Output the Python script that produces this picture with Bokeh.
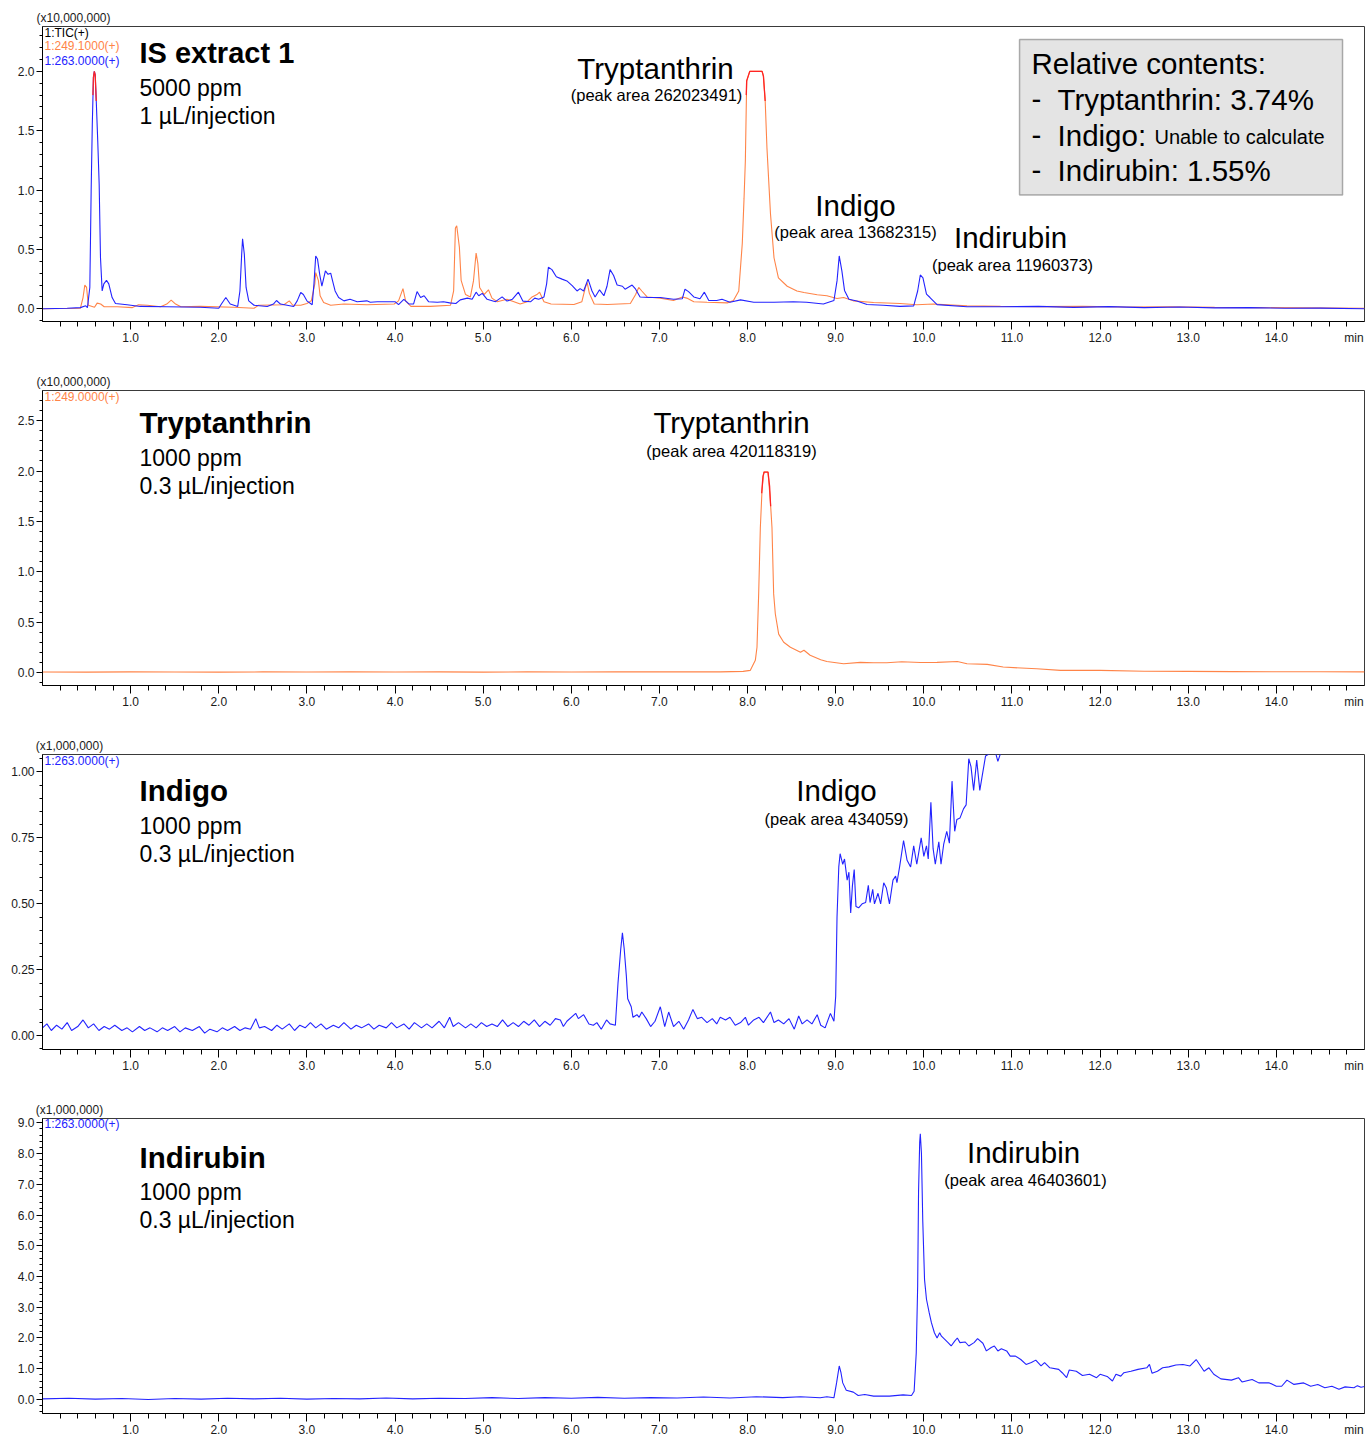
import math
from bokeh.plotting import figure
from bokeh.layouts import column
from bokeh.models import FixedTicker, Label, BoxAnnotation, Range1d, PrintfTickFormatter, LinearAxis
from bokeh.embed import file_html
from bokeh.resources import INLINE

FONT = "Liberation Sans"
BLUE = "#2323ff"
ORANGE = "#ff8448"
RED = "#ff2424"
NAN = float("nan")

# ---------------- data (time in min, intensity in axis units) ----------------
x_major = [1.0, 2.0, 3.0, 4.0, 5.0, 6.0, 7.0, 8.0, 9.0, 10.0, 11.0, 12.0, 13.0, 14.0]

# Panel 1: IS extract 1 (x10,000,000)
p1_blue_t = [0.0, 0.015, 0.28, 0.43, 0.49, 0.51, 0.537, 0.552, 0.565, 0.578, 0.588, 0.598, 0.61, 0.627,
             0.643, 0.658, 0.677, 0.696, 0.726, 0.752, 0.79, 0.828, 0.96, 1.11, 1.41, 1.79, 2.0, 2.03,
             2.08, 2.13, 2.215, 2.24, 2.26, 2.27, 2.29, 2.31, 2.34, 2.40, 2.55, 2.62, 2.655, 2.70, 2.85,
             2.89, 2.93, 2.96, 3.0, 3.06, 3.08, 3.10, 3.12, 3.145, 3.17, 3.21, 3.24, 3.27, 3.29, 3.32,
             3.36, 3.42, 3.49, 3.57, 3.68, 3.72, 3.80, 4.00, 4.04, 4.10, 4.16, 4.21, 4.25, 4.29, 4.33,
             4.38, 4.48, 4.55, 4.62, 4.69, 4.74, 4.82, 4.875, 4.92, 4.95, 4.99, 5.045, 5.14, 5.215, 5.27,
             5.33, 5.40, 5.45, 5.54, 5.585, 5.63, 5.69, 5.72, 5.74, 5.78, 5.83, 5.895, 5.95, 6.01, 6.065,
             6.10, 6.14, 6.19, 6.235, 6.27, 6.32, 6.37, 6.405, 6.44, 6.48, 6.52, 6.58, 6.61, 6.69, 6.73,
             6.78, 6.88, 7.01, 7.16, 7.26, 7.29, 7.33, 7.39, 7.46, 7.51, 7.56, 7.65, 7.71, 7.80, 7.92,
             8.07, 8.30, 8.52, 8.67, 8.86, 8.98, 9.015, 9.04, 9.07, 9.10, 9.15, 9.24, 9.355, 9.54, 9.73,
             9.885, 9.93, 9.96, 9.99, 10.03, 10.07, 10.15, 10.49, 10.87, 11.3, 11.7, 12.1, 12.5, 12.9,
             13.3, 13.7, 14.1, 14.5, 15.0]
p1_blue_v = [0.0, 0.0, 0.004, 0.01, 0.025, 0.01, 0.18, 0.99, 1.55, 1.95, 2.0, 1.97, 1.75, 1.41,
             1.05, 0.43, 0.15, 0.21, 0.24, 0.21, 0.095, 0.045, 0.034, 0.02, 0.017, 0.013, 0.004, 0.04,
             0.095, 0.04, 0.02, 0.15, 0.46, 0.59, 0.46, 0.18, 0.067, 0.03, 0.02, 0.04, 0.07, 0.04, 0.02,
             0.067, 0.137, 0.12, 0.067, 0.034, 0.21, 0.445, 0.42, 0.29, 0.19, 0.32, 0.29, 0.30, 0.24, 0.15,
             0.095, 0.067, 0.08, 0.06, 0.067, 0.055, 0.06, 0.06, 0.035, 0.08, 0.04, 0.04, 0.145, 0.095, 0.11,
             0.06, 0.055, 0.06, 0.05, 0.045, 0.075, 0.09, 0.08, 0.14, 0.11, 0.13, 0.08, 0.06, 0.10, 0.065,
             0.08, 0.14, 0.065, 0.06, 0.09, 0.08, 0.10, 0.21, 0.35, 0.33, 0.27, 0.25, 0.235, 0.195, 0.15,
             0.17, 0.15, 0.25, 0.15, 0.10, 0.16, 0.11, 0.19, 0.33, 0.28, 0.20, 0.19, 0.165, 0.20, 0.165,
             0.10, 0.095, 0.095, 0.08, 0.085, 0.165, 0.145, 0.10, 0.085, 0.14, 0.07, 0.07, 0.08, 0.055, 0.075,
             0.055, 0.055, 0.06, 0.055, 0.04, 0.07, 0.235, 0.445, 0.32, 0.155, 0.08, 0.065, 0.036, 0.03, 0.02,
             0.025, 0.15, 0.285, 0.26, 0.123, 0.095, 0.035, 0.017, 0.017, 0.02, 0.012, 0.018, 0.01, 0.015,
             0.008, 0.01, 0.004, 0.006, 0.0]

p1_orange_t = [0.0, 0.43, 0.46, 0.48, 0.50, 0.52, 0.59, 0.62, 0.66, 0.70, 0.85, 1.02, 1.09, 1.19, 1.34,
               1.41, 1.46, 1.51, 1.57, 1.79, 2.17, 2.40, 2.45, 2.74, 2.80, 2.84, 2.93, 3.0, 3.05, 3.09,
               3.10, 3.13, 3.15, 3.19, 3.27, 3.42, 3.68, 3.99, 4.04, 4.09, 4.12, 4.18, 4.40, 4.63, 4.665,
               4.685, 4.70, 4.73, 4.75, 4.80, 4.855, 4.89, 4.92, 4.94, 4.96, 5.01, 5.06, 5.10, 5.16, 5.27,
               5.35, 5.42, 5.50, 5.555, 5.61, 5.64, 5.69, 5.77, 6.03, 6.12, 6.16, 6.18, 6.205, 6.26, 6.41,
               6.67, 6.73, 6.765, 6.80, 6.86, 7.01, 7.16, 7.26, 7.31, 7.39, 7.54, 7.77, 7.84, 7.90, 7.94,
               7.96, 7.975, 7.99, 8.025, 8.165, 8.18, 8.20, 8.22, 8.26, 8.30, 8.35, 8.45, 8.56, 8.64, 8.79,
               8.90, 9.015, 9.09, 9.20, 9.43, 9.73, 9.92, 10.11, 10.49, 10.87, 11.3, 11.8, 12.3, 12.8, 13.3,
               13.8, 14.3, 15.0]
p1_orange_v = [0.0, 0.005, 0.095, 0.20, 0.18, 0.03, 0.013, 0.048, 0.04, 0.017, 0.017, 0.01, 0.034, 0.03, 0.017,
               0.04, 0.073, 0.04, 0.017, 0.02, 0.013, 0.004, 0.03, 0.034, 0.067, 0.03, 0.03, 0.045, 0.067, 0.21,
               0.305, 0.24, 0.11, 0.053, 0.03, 0.04, 0.034, 0.04, 0.067, 0.17, 0.067, 0.02, 0.02, 0.03, 0.15,
               0.68, 0.70, 0.52, 0.24, 0.12, 0.10, 0.235, 0.47, 0.38, 0.18, 0.12, 0.16, 0.09, 0.06, 0.08,
               0.06, 0.04, 0.06, 0.10, 0.12, 0.14, 0.06, 0.04, 0.036, 0.06, 0.18, 0.22, 0.13, 0.04, 0.036,
               0.045, 0.12, 0.18, 0.15, 0.10, 0.09, 0.07, 0.10, 0.09, 0.06, 0.055, 0.05, 0.07, 0.15, 0.55,
               0.93, 1.25, 1.92, 2.0, 2.0, 1.96, 1.75, 1.355, 0.80, 0.43, 0.26, 0.19, 0.15, 0.137, 0.118,
               0.11, 0.087, 0.095, 0.067, 0.053, 0.045, 0.034, 0.04, 0.025, 0.02, 0.018, 0.02, 0.015, 0.017, 0.012,
               0.01, 0.008, 0.005]

p1_sat_t = [0.572, 0.578, 0.588, 0.598, 0.61, NAN, 7.985, 7.99, 8.025, 8.165, 8.18, 8.20]
p1_sat_v = [1.8, 1.95, 2.0, 1.97, 1.75, NAN, 1.8, 1.92, 2.0, 2.0, 1.96, 1.75]

# Panel 2: Tryptanthrin standard (x10,000,000)
p2_t = [0.0, 0.5, 1.0, 1.5, 2.0, 2.5, 3.0, 3.5, 4.0, 4.5, 5.0, 5.5, 6.0, 6.5, 7.0, 7.5, 7.69, 7.95, 8.03,
        8.088, 8.107, 8.126, 8.145, 8.164, 8.183, 8.232, 8.258, 8.277, 8.296, 8.315, 8.353, 8.41, 8.486,
        8.6, 8.64, 8.71, 8.83, 8.90, 9.09, 9.28, 9.43, 9.58, 9.75, 9.96, 10.15, 10.38, 10.49, 10.72, 10.9,
        11.28, 11.55, 12.0, 12.5, 13.0, 13.5, 14.0, 14.5, 15.0]
p2_v = [0.004, 0.003, 0.005, 0.004, 0.003, 0.005, 0.004, 0.006, 0.004, 0.005, 0.003, 0.005, 0.004, 0.006,
        0.005, 0.006, 0.005, 0.01, 0.02, 0.12, 0.25, 0.78, 1.44, 1.81, 1.99, 1.99, 1.71, 1.44, 0.78, 0.58,
        0.38, 0.30, 0.25, 0.20, 0.22, 0.17, 0.126, 0.109, 0.086, 0.10, 0.096, 0.096, 0.106, 0.099, 0.10,
        0.109, 0.086, 0.08, 0.053, 0.036, 0.02, 0.02, 0.012, 0.01, 0.008, 0.006, 0.007, 0.005]
p2_sat_t = [8.16, 8.175, 8.19, 8.232, 8.25, 8.262]
p2_sat_v = [1.78, 1.95, 1.99, 1.99, 1.85, 1.65]

# Panel 3: Indigo standard (x1,000,000)
p3_t = [0.0, 0.05, 0.1, 0.16, 0.22, 0.28, 0.33, 0.4, 0.46, 0.52, 0.58, 0.64, 0.7, 0.76, 0.82, 0.9, 0.96,
        1.02, 1.1, 1.16, 1.22, 1.3, 1.36, 1.42, 1.5, 1.56, 1.62, 1.7, 1.78, 1.84, 1.9, 1.98, 2.04, 2.1,
        2.18, 2.24, 2.3, 2.36, 2.42, 2.46, 2.52, 2.6, 2.66, 2.72, 2.8, 2.86, 2.92, 2.98, 3.04, 3.1, 3.16,
        3.22, 3.3, 3.36, 3.42, 3.5, 3.56, 3.62, 3.7, 3.76, 3.82, 3.9, 3.96, 4.02, 4.1, 4.16, 4.22, 4.3,
        4.36, 4.42, 4.5, 4.56, 4.62, 4.66, 4.72, 4.8, 4.86, 4.92, 4.98, 5.04, 5.1, 5.16, 5.22, 5.28, 5.34,
        5.4, 5.46, 5.52, 5.58, 5.64, 5.7, 5.76, 5.82, 5.876, 5.91, 5.95, 6.05, 6.08, 6.14, 6.20, 6.25,
        6.29, 6.34, 6.40, 6.44, 6.50, 6.53, 6.56, 6.58, 6.60, 6.625, 6.64, 6.68, 6.70, 6.745, 6.77, 6.80,
        6.85, 6.90, 6.95, 7.01, 7.06, 7.105, 7.16, 7.22, 7.275, 7.33, 7.38, 7.43, 7.48, 7.54, 7.60, 7.65,
        7.69, 7.75, 7.80, 7.86, 7.92, 7.975, 8.01, 8.07, 8.13, 8.18, 8.26, 8.30, 8.35, 8.41, 8.47, 8.53,
        8.58, 8.62, 8.675, 8.73, 8.79, 8.83, 8.88, 8.94, 8.98, 9.0, 9.015, 9.035, 9.05, 9.08, 9.10, 9.13,
        9.15, 9.17, 9.19, 9.21, 9.23, 9.26, 9.30, 9.34, 9.37, 9.39, 9.42, 9.44, 9.48, 9.51, 9.545, 9.575,
        9.61, 9.65, 9.68, 9.695, 9.725, 9.77, 9.81, 9.85, 9.885, 9.92, 9.97, 10.0, 10.03, 10.05, 10.08,
        10.105, 10.13, 10.17, 10.195, 10.225, 10.26, 10.29, 10.32, 10.35, 10.375, 10.41, 10.45, 10.48,
        10.51, 10.535, 10.565, 10.60, 10.635, 10.66, 10.70, 10.75, 10.80, 10.84, 10.87, 10.95, 11.1]
p3_v = [0.03, 0.045, 0.02, 0.04, 0.025, 0.05, 0.02, 0.035, 0.06, 0.03, 0.045, 0.02, 0.035, 0.025, 0.04, 0.02,
        0.03, 0.015, 0.035, 0.02, 0.03, 0.015, 0.03, 0.02, 0.035, 0.015, 0.03, 0.02, 0.035, 0.01, 0.025,
        0.015, 0.03, 0.02, 0.035, 0.02, 0.03, 0.025, 0.065, 0.03, 0.035, 0.02, 0.04, 0.025, 0.045, 0.02,
        0.04, 0.03, 0.05, 0.03, 0.045, 0.025, 0.04, 0.03, 0.05, 0.025, 0.04, 0.03, 0.045, 0.025, 0.04, 0.03,
        0.05, 0.03, 0.045, 0.025, 0.05, 0.03, 0.045, 0.03, 0.055, 0.03, 0.07, 0.035, 0.05, 0.03, 0.045,
        0.03, 0.05, 0.035, 0.045, 0.035, 0.06, 0.035, 0.05, 0.035, 0.055, 0.04, 0.06, 0.035, 0.055, 0.04,
        0.065, 0.06, 0.035, 0.055, 0.085, 0.065, 0.08, 0.045, 0.04, 0.05, 0.025, 0.06, 0.045, 0.04, 0.20,
        0.325, 0.39, 0.33, 0.225, 0.14, 0.11, 0.07, 0.08, 0.07, 0.09, 0.065, 0.035, 0.055, 0.11, 0.035,
        0.09, 0.035, 0.055, 0.025, 0.06, 0.10, 0.065, 0.07, 0.05, 0.065, 0.045, 0.07, 0.06, 0.07, 0.04,
        0.05, 0.07, 0.04, 0.06, 0.07, 0.05, 0.09, 0.05, 0.06, 0.045, 0.065, 0.025, 0.075, 0.045, 0.06,
        0.045, 0.08, 0.04, 0.03, 0.085, 0.055, 0.15, 0.45, 0.64, 0.69, 0.65, 0.67, 0.59, 0.62, 0.465, 0.57,
        0.63, 0.49, 0.485, 0.50, 0.505, 0.57, 0.505, 0.555, 0.50, 0.54, 0.50, 0.58, 0.56, 0.50, 0.59, 0.605,
        0.58, 0.64, 0.74, 0.665, 0.64, 0.72, 0.65, 0.75, 0.68, 0.72, 0.67, 0.885, 0.71, 0.65, 0.735, 0.65,
        0.725, 0.775, 0.73, 0.965, 0.775, 0.82, 0.825, 0.86, 0.875, 1.05, 1.02, 0.93, 1.045, 0.93, 0.98,
        1.06, 1.07, 1.09, 1.04, 1.07, 1.12, 1.2]

# Panel 4: Indirubin standard (x1,000,000)
p4_t = [0.0, 0.3, 0.6, 0.9, 1.2, 1.5, 1.8, 2.1, 2.4, 2.7, 3.0, 3.3, 3.6, 3.9, 4.2, 4.5, 4.8, 5.1, 5.4, 5.7,
        6.0, 6.3, 6.6, 6.9, 7.2, 7.5, 7.8, 8.1, 8.4, 8.6, 8.824, 8.90, 8.98, 9.01, 9.04, 9.06, 9.08, 9.12,
        9.20, 9.255, 9.33, 9.43, 9.61, 9.765, 9.86, 9.89, 9.914, 9.93, 9.94, 9.953, 9.96, 9.973, 9.988,
        10.008, 10.03, 10.06, 10.086, 10.12, 10.15, 10.18, 10.20, 10.235, 10.275, 10.31, 10.35, 10.38,
        10.41, 10.47, 10.51, 10.57, 10.61, 10.67, 10.71, 10.765, 10.80, 10.84, 10.88, 10.94, 10.98, 11.04,
        11.10, 11.16, 11.22, 11.27, 11.33, 11.37, 11.43, 11.53, 11.57, 11.62, 11.65, 11.73, 11.80, 11.88,
        11.96, 12.0, 12.08, 12.14, 12.18, 12.235, 12.27, 12.35, 12.43, 12.53, 12.56, 12.59, 12.65, 12.71,
        12.78, 12.86, 12.94, 13.02, 13.09, 13.14, 13.18, 13.235, 13.29, 13.37, 13.49, 13.57, 13.61, 13.725,
        13.80, 13.92, 14.0, 14.06, 14.12, 14.20, 14.31, 14.39, 14.47, 14.55, 14.63, 14.71, 14.78, 14.88,
        14.92, 14.96, 15.0]
p4_v = [0.02, 0.04, 0.01, 0.03, 0.0, 0.03, 0.01, 0.04, 0.02, 0.04, 0.01, 0.03, 0.02, 0.05, 0.02, 0.04, 0.03,
        0.06, 0.03, 0.06, 0.04, 0.07, 0.04, 0.06, 0.05, 0.08, 0.05, 0.09, 0.06, 0.09, 0.055, 0.09, 0.055,
        0.54, 1.09, 0.87, 0.54, 0.30, 0.24, 0.13, 0.16, 0.11, 0.11, 0.15, 0.13, 0.27, 1.52, 3.69, 6.74, 8.37,
        8.64, 8.0, 5.8, 3.9, 3.26, 2.83, 2.5, 2.17, 2.0, 2.17, 2.06, 1.96, 1.85, 1.74, 1.90, 2.0, 1.85, 1.87,
        1.74, 1.85, 1.98, 1.83, 1.58, 1.69, 1.74, 1.58, 1.65, 1.58, 1.41, 1.41, 1.30, 1.14, 1.20, 1.28, 1.09,
        1.20, 1.03, 0.98, 0.87, 0.71, 0.96, 0.92, 0.78, 0.82, 0.71, 0.82, 0.75, 0.60, 0.82, 0.76, 0.87, 0.92,
        0.98, 1.03, 1.14, 0.85, 0.92, 1.03, 1.06, 1.12, 1.14, 1.09, 1.30, 1.09, 0.92, 1.03, 0.82, 0.67, 0.63,
        0.71, 0.57, 0.65, 0.54, 0.54, 0.43, 0.43, 0.63, 0.49, 0.54, 0.43, 0.49, 0.38, 0.43, 0.33, 0.41, 0.38,
        0.45, 0.40, 0.42]


def make_fig(y0, y1, yticks, yminor, fmt, scale_text, scale_pos, last=False):
    p = figure(frame_width=1322, frame_height=295,
               x_range=Range1d(0, 15), y_range=Range1d(y0, y1),
               output_backend="svg", toolbar_location=None,
               min_border_left=42, min_border_right=2, min_border_top=26,
               min_border_bottom=(24 if last else 43))
    p.grid.visible = False
    p.outline_line_color = "#3a3a3a"
    p.outline_line_width = 1
    p.background_fill_color = "white"
    p.border_fill_color = "white"
    # axis line + tick marks (its own labels are not drawn)
    xa = p.xaxis[0]
    xa.ticker = FixedTicker(ticks=x_major, minor_ticks=[round(0.2 * i, 1) for i in range(1, 75)])
    xa.major_label_standoff = 0
    xa.major_label_text_color = None
    xa.major_tick_out = 8
    xa.major_tick_in = 0
    xa.minor_tick_out = 5
    xa.minor_tick_in = 0
    xa.axis_line_color = "black"
    xa.major_tick_line_color = "black"
    xa.minor_tick_line_color = "black"
    ya = p.yaxis[0]
    ya.ticker = FixedTicker(ticks=yticks, minor_ticks=yminor)
    ya.formatter = PrintfTickFormatter(format=fmt)
    ya.axis_line_color = "black"
    ya.major_tick_line_color = "black"
    ya.minor_tick_line_color = "black"
    ya.major_tick_in = 0
    ya.minor_tick_in = 0
    ya.major_tick_out = 6
    ya.minor_tick_out = 3
    ya.major_label_standoff = 2
    ya.major_label_text_font = FONT
    ya.major_label_text_font_size = "12px"
    ya.major_label_text_color = "#1a1a1a"
    # labels, including the "min" unit at the right end
    la = LinearAxis(ticker=FixedTicker(ticks=x_major + [14.88], minor_ticks=[]),
                    formatter=PrintfTickFormatter(format="%.1f"),
                    major_label_overrides={14.88: "min"})
    la.axis_line_color = None
    la.major_tick_line_color = None
    la.minor_tick_line_color = None
    la.major_tick_out = 0
    la.major_tick_in = 0
    la.minor_tick_out = 0
    la.minor_tick_in = 0
    la.major_label_standoff = 1
    la.major_label_text_font = FONT
    la.major_label_text_font_size = "12px"
    la.major_label_text_color = "#1a1a1a"
    p.add_layout(la, "below")
    # intensity multiplier above the frame
    ta = LinearAxis(ticker=FixedTicker(ticks=[scale_pos], minor_ticks=[]),
                    major_label_overrides={scale_pos: scale_text})
    ta.axis_line_color = None
    ta.major_tick_line_color = None
    ta.minor_tick_line_color = None
    ta.major_tick_out = 0
    ta.minor_tick_out = 0
    ta.major_label_standoff = 2
    ta.major_label_text_font = FONT
    ta.major_label_text_font_size = "12px"
    ta.major_label_text_color = "#1a1a1a"
    p.add_layout(ta, "above")
    return p


def lab(p, x, y, text, size, bold=False, color="black", align="left", baseline="middle", xo=0, yo=0):
    p.add_layout(Label(x=x, y=y, text=text, text_font=FONT, text_font_size=f"{size}px",
                       text_font_style=("bold" if bold else "normal"), text_color=color,
                       text_align=align, text_baseline=baseline, x_offset=xo, y_offset=yo))


def fx(xpx):
    return (xpx - 42) / 88.13


# ---------- panel 1 ----------
y1a, y1b = -0.107, 2.378
p1 = make_fig(y1a, y1b, [0.0, 0.5, 1.0, 1.5, 2.0], [round(0.1 * i, 1) for i in range(-1, 24)], "%.1f",
              "(x10,000,000)", 0.352)
p1.line(p1_orange_t, p1_orange_v, color=ORANGE, line_width=1.1)
p1.line(p1_blue_t, p1_blue_v, color=BLUE, line_width=1.1)
p1.line(p1_sat_t, p1_sat_v, color=RED, line_width=1.3)
f1 = lambda y: (309 - y) / 119
lab(p1, fx(44), f1(33), "1:TIC(+)", 12)
lab(p1, fx(44), f1(46), "1:249.1000(+)", 12, color=ORANGE)
lab(p1, fx(44), f1(61), "1:263.0000(+)", 12, color=BLUE)
lab(p1, fx(139), f1(53), "IS extract 1", 29, bold=True)
lab(p1, fx(139), f1(88), "5000 ppm", 23)
lab(p1, fx(139), f1(116), "1 µL/injection", 23)
lab(p1, fx(655), f1(68), "Tryptanthrin", 29.5, align="center")
lab(p1, fx(656), f1(95), "(peak area 262023491)", 16.5, align="center")
lab(p1, fx(855), f1(205), "Indigo", 29.5, align="center")
lab(p1, fx(855), f1(232), "(peak area 13682315)", 16.5, align="center")
lab(p1, fx(1010), f1(238), "Indirubin", 29.5, align="center")
lab(p1, fx(1012), f1(265), "(peak area 11960373)", 16.5, align="center")
p1.add_layout(BoxAnnotation(left=fx(1019), right=fx(1342), top=f1(39), bottom=f1(195),
                            fill_color="#e4e4e4", fill_alpha=1.0, line_color="black", line_width=1.5))
lab(p1, fx(1031), f1(63), "Relative contents:", 29.5)
for yy in (99, 135, 170):
    lab(p1, fx(1031), f1(yy), "-", 29.5)
lab(p1, fx(1057), f1(99), "Tryptanthrin: 3.74%", 29.5)
lab(p1, fx(1057), f1(135), "Indigo:", 29.5)
lab(p1, fx(1154), f1(137), "Unable to calculate", 20)
lab(p1, fx(1057), f1(170), "Indirubin: 1.55%", 29.5)

# ---------- panel 2 ----------
y2a, y2b = -0.13, 2.80
p2 = make_fig(y2a, y2b, [0.0, 0.5, 1.0, 1.5, 2.0, 2.5], [round(0.1 * i, 1) for i in range(-1, 28)], "%.1f",
              "(x10,000,000)", 0.352)
p2.line(p2_t, p2_v, color=ORANGE, line_width=1.1)
p2.line(p2_sat_t, p2_sat_v, color=RED, line_width=1.3)
f2 = lambda y: (673 - y) / 101.3
lab(p2, fx(44), f2(396), "1:249.0000(+)", 12, color=ORANGE)
lab(p2, fx(139), f2(422), "Tryptanthrin", 29.5, bold=True)
lab(p2, fx(139), f2(457), "1000 ppm", 23)
lab(p2, fx(139), f2(485), "0.3 µL/injection", 23)
lab(p2, fx(731), f2(422), "Tryptanthrin", 29.5, align="center")
lab(p2, fx(731), f2(450), "(peak area 420118319)", 16.5, align="center")

# ---------- panel 3 ----------
y3a, y3b = -0.052, 1.066
p3 = make_fig(y3a, y3b, [0.0, 0.25, 0.5, 0.75, 1.0], [round(0.05 * i, 2) for i in range(-1, 22)], "%.2f",
              "(x1,000,000)", 0.306)
p3.line(p3_t, p3_v, color=BLUE, line_width=1.1)
f3 = lambda y: (1036.3 - y) / 264
lab(p3, fx(44), f3(761), "1:263.0000(+)", 12, color=BLUE)
lab(p3, fx(139), f3(791), "Indigo", 29.5, bold=True)
lab(p3, fx(139), f3(826), "1000 ppm", 23)
lab(p3, fx(139), f3(854), "0.3 µL/injection", 23)
lab(p3, fx(836), f3(791), "Indigo", 29.5, align="center")
lab(p3, fx(836), f3(819), "(peak area 434059)", 16.5, align="center")

# ---------- panel 4 ----------
y4a, y4b = -0.456, 9.14
p4 = make_fig(y4a, y4b, [float(i) for i in range(0, 10)], [round(0.2 * i, 1) for i in range(-2, 46)], "%.1f",
              "(x1,000,000)", 0.306, last=True)
p4.line(p4_t, p4_v, color=BLUE, line_width=1.1)
f4 = lambda y: (1400 - y) / 30.7
lab(p4, fx(44), f4(1125), "1:263.0000(+)", 12, color=BLUE)
lab(p4, fx(139), f4(1158), "Indirubin", 29.5, bold=True)
lab(p4, fx(139), f4(1193), "1000 ppm", 23)
lab(p4, fx(139), f4(1221), "0.3 µL/injection", 23)
lab(p4, fx(1023), f4(1153), "Indirubin", 29.5, align="center")
lab(p4, fx(1025), f4(1181), "(peak area 46403601)", 16.5, align="center")

layout = column(p1, p2, p3, p4, spacing=0)
open("out.html", "w").write(file_html(layout, INLINE))
